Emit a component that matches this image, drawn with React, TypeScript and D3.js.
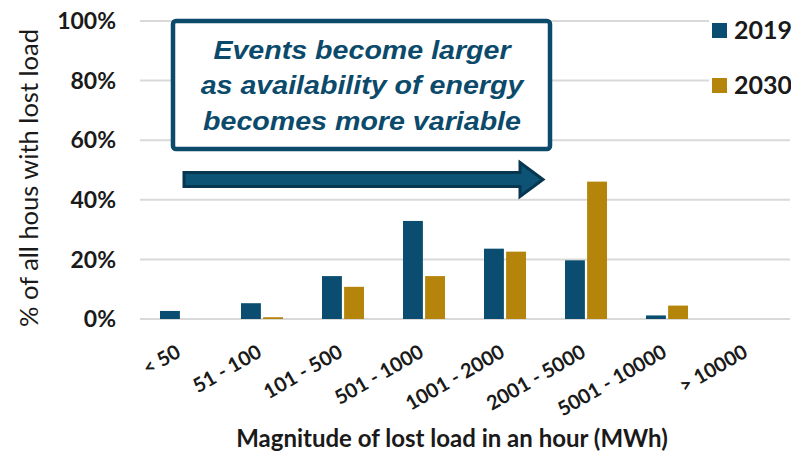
import { useEffect, useRef } from 'react';
import * as d3 from 'd3';

const categories = ['< 50', '51 - 100', '101 - 500', '501 - 1000', '1001 - 2000', '2001 - 5000', '5001 - 10000', '> 10000'];
const values2019 = [2.7, 5.3, 14.4, 32.9, 23.6, 19.7, 1.2, 0];
const values2030 = [0, 0.6, 10.8, 14.4, 22.6, 46.1, 4.5, 0];
const seriesNames = ['2019', '2030'];
const yTicks = [0, 20, 40, 60, 80, 100];
const noteLines = ['Events become larger', 'as availability of energy', 'becomes more variable'];

const W = 791;
const H = 457;
const COLORS = ['#0b4d70', '#b5850b'];
const NOTE = '#0b4a6a';
const INK = '#1a1a1a';

export default function App() {
  const svgRef = useRef<SVGSVGElement>(null);

  useEffect(() => {
    const svg = d3.select(svgRef.current);
    svg.selectAll('*').remove();

    const x = d3.scaleBand<string>().domain(categories).range([141.5, 789.5]);
    const inner = d3.scaleBand<string>().domain(seriesNames).range([-22, 20]).paddingInner(0.1);
    const y = d3.scaleLinear().domain([0, 100]).range([319, 21]);

    // grid
    svg.append('g')
      .selectAll('line')
      .data(yTicks)
      .join('line')
      .attr('x1', 140)
      .attr('x2', 790)
      .attr('y1', d => y(d))
      .attr('y2', d => y(d))
      .attr('stroke', '#d9d9d9')
      .attr('stroke-width', 2);

    // y tick labels
    svg.append('g')
      .selectAll('text')
      .data(yTicks)
      .join('text')
      .attr('x', 116)
      .attr('y', d => y(d))
      .attr('dy', '0.36em')
      .attr('text-anchor', 'end')
      .style('font-family', 'Lato, sans-serif')
      .style('font-weight', 'bold')
      .style('font-size', '23px')
      .style('fill', INK)
      .text(d => d + '%');

    // bars
    const data = [values2019, values2030];
    const groups = svg.append('g')
      .selectAll('g')
      .data(categories)
      .join('g')
      .attr('transform', d => `translate(${x(d)! + x.bandwidth() / 2},0)`);

    groups.selectAll('rect')
      .data((_, i) => seriesNames.map((s, j) => ({ s, v: data[j][i], j })))
      .join('rect')
      .attr('x', d => inner(d.s)!)
      .attr('width', inner.bandwidth())
      .attr('y', d => y(d.v))
      .attr('height', d => y(0) - y(d.v))
      .attr('fill', d => COLORS[d.j]);

    // x labels
    svg.append('g')
      .selectAll('text')
      .data(categories)
      .join('text')
      .attr('text-anchor', 'end')
      .attr('transform', d => `translate(${x(d)! + x.bandwidth() / 2},356) rotate(-30)`)
      .style('font-family', 'Lato, sans-serif')
      .style('font-weight', 'bold')
      .style('font-size', '20px')
      .style('fill', INK)
      .text(d => d);

    // axis titles
    svg.append('text')
      .attr('x', 452)
      .attr('y', 447)
      .attr('text-anchor', 'middle')
      .style('font-family', 'Lato, sans-serif')
      .style('font-weight', 'bold')
      .style('font-size', '24px')
      .style('fill', INK)
      .text('Magnitude of lost load in an hour (MWh)');

    svg.append('text')
      .attr('transform', 'translate(38,178) rotate(-90)')
      .attr('text-anchor', 'middle')
      .style('font-family', 'Lato, sans-serif')
      .style('font-size', '25.5px')
      .style('fill', INK)
      .text('% of all hous with lost load');

    // legend
    const legend = svg.append('g');
    legend.append('rect')
      .attr('x', 709).attr('y', 5).attr('width', 82).attr('height', 100)
      .attr('fill', '#fff');
    seriesNames.forEach((s, i) => {
      legend.append('rect')
        .attr('x', 712).attr('y', 23 + i * 55).attr('width', 15).attr('height', 15)
        .attr('fill', COLORS[i]);
      legend.append('text')
        .attr('x', 734).attr('y', 30 + i * 55).attr('dy', '0.36em')
        .style('font-family', 'Lato, sans-serif')
        .style('font-weight', 'bold')
        .style('font-size', '25px')
        .style('fill', INK)
        .text(s);
    });

    // annotation box
    svg.append('rect')
      .attr('x', 173).attr('y', 21).attr('width', 377).attr('height', 128)
      .attr('rx', 3)
      .attr('fill', '#fff')
      .attr('stroke', NOTE)
      .attr('stroke-width', 4.5);

    svg.append('g')
      .attr('transform', 'translate(362,0) scale(1.1,1)')
      .selectAll('text')
      .data(noteLines)
      .join('text')
      .attr('x', 0)
      .attr('y', (_, i) => 59 + i * 35.5)
      .attr('text-anchor', 'middle')
      .style('font-family', '"Liberation Sans", Arial, sans-serif')
      .style('font-weight', 'bold')
      .style('font-style', 'italic')
      .style('font-size', '26px')
      .style('fill', NOTE)
      .text(d => d);

    // arrow
    const ay = 179.5;
    const arrowPts: [number, number][] = [
      [184, ay - 7], [520, ay - 7], [520, ay - 17], [543, ay], [520, ay + 17], [520, ay + 7], [184, ay + 7]
    ];
    svg.append('path')
      .attr('d', d3.line()(arrowPts) + 'Z')
      .attr('fill', '#0d5376')
      .attr('stroke', '#073650')
      .attr('stroke-width', 3)
      .attr('stroke-linejoin', 'miter');
  }, []);

  return (
    <svg
      ref={svgRef}
      width={W}
      height={H}
      style={{ position: 'absolute', left: 0, top: 0, background: '#fff' }}
    />
  );
}
